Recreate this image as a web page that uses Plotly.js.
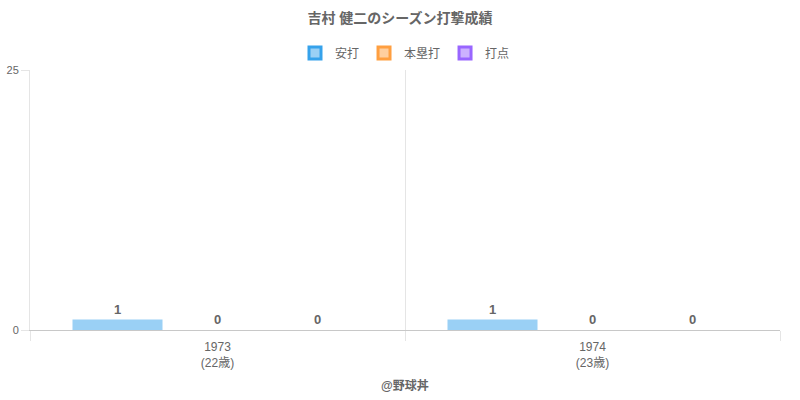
<!DOCTYPE html>
<html>
<head>
<meta charset="utf-8">
<script src="https://cdn.plot.ly/plotly-3.0.1.min.js"></script>
<style>
  html, body { margin: 0; padding: 0; background: #fff; }
  #chart { width: 800px; height: 400px; }
</style>
</head>
<body>
<div id="chart"></div>
<script>
// seasons and stats
var seasons = ['1973<br>(22歳)', '1974<br>(23歳)'];
var hits = [1, 1];
var homeRuns = [0, 0];
var rbis = [0, 0];

var seriesNames = ['安打', '本塁打', '打点'];
var seriesFill = ['rgba(54,162,235,0.5)', 'rgba(255,159,64,0.5)', 'rgba(153,102,255,0.5)'];
var seriesLine = ['rgb(54,162,235)', 'rgb(255,159,64)', 'rgb(153,102,255)'];

var FONT = '"Helvetica Neue", Helvetica, Arial, "Noto Sans CJK JP", sans-serif';

function makeBar(values, i) {
  return {
    type: 'bar',
    x: seasons,
    y: values,
    name: seriesNames[i],
    showlegend: false,
    text: values.map(String),
    textposition: 'outside',
    cliponaxis: false,
    textfont: { family: FONT, size: 13, color: '#666', weight: 'bold' },
    marker: { color: seriesFill[i] },
    hoverinfo: 'none'
  };
}

// legend-only entries, so the legend swatch can carry a border
function makeLegend(i) {
  return {
    type: 'bar',
    x: [seasons[0]],
    y: [null],
    xaxis: 'x2',
    yaxis: 'y2',
    name: seriesNames[i],
    marker: { color: seriesFill[i], line: { color: seriesLine[i], width: 3 } },
    hoverinfo: 'none'
  };
}

var traces = [makeBar(hits, 0), makeBar(homeRuns, 1), makeBar(rbis, 2),
  makeLegend(0), makeLegend(1), makeLegend(2)];

var layout = {
  width: 800,
  height: 400,
  margin: { l: 30, r: 20, t: 70, b: 70 },
  paper_bgcolor: '#fff',
  plot_bgcolor: '#fff',
  font: { family: FONT, color: '#666', size: 11 },
  title: {
    text: '<b>吉村 健二のシーズン打撃成績</b>',
    font: { family: FONT, size: 14, color: '#666' },
    x: 0.5, xanchor: 'center', y: 0.955, yanchor: 'middle'
  },
  showlegend: true,
  legend: {
    orientation: 'h',
    x: 0.5, xanchor: 'center',
    y: 1.065, yanchor: 'middle',
    font: { family: FONT, size: 12, color: '#666' },
    itemclick: false
  },
  barmode: 'group',
  bargap: 0.2,
  bargroupgap: 0.1,
  xaxis: {
    type: 'category',
    tickson: 'boundaries',
    showgrid: true,
    gridcolor: '#e5e5e5',
    showline: true,
    linecolor: '#c8c8c8',
    ticks: 'outside',
    ticklen: 10,
    tickcolor: '#e5e5e5',
    ticklabelstandoff: 6,
    tickfont: { family: FONT, size: 12, color: '#666' },
    fixedrange: true
  },
  yaxis: {
    range: [0, 25],
    tickvals: [0, 25],
    showgrid: true,
    gridcolor: '#e5e5e5',
    zeroline: false,
    showline: true,
    linecolor: '#e5e5e5',
    ticks: 'outside',
    ticklen: 8,
    tickcolor: '#e5e5e5',
    tickfont: { family: FONT, size: 11, color: '#666' },
    fixedrange: true
  },
  xaxis2: { visible: false, overlaying: 'x', type: 'category', fixedrange: true },
  yaxis2: { visible: false, overlaying: 'y', range: [0, 1], fixedrange: true },
  annotations: [{
    text: '<b>@野球丼</b>',
    xref: 'paper', yref: 'paper',
    x: 0.5, y: -0.215,
    xanchor: 'center', yanchor: 'middle',
    showarrow: false,
    font: { family: FONT, size: 12, color: '#666' }
  }]
};

Plotly.newPlot('chart', traces, layout, { displayModeBar: false, staticPlot: true });
</script>
</body>
</html>
